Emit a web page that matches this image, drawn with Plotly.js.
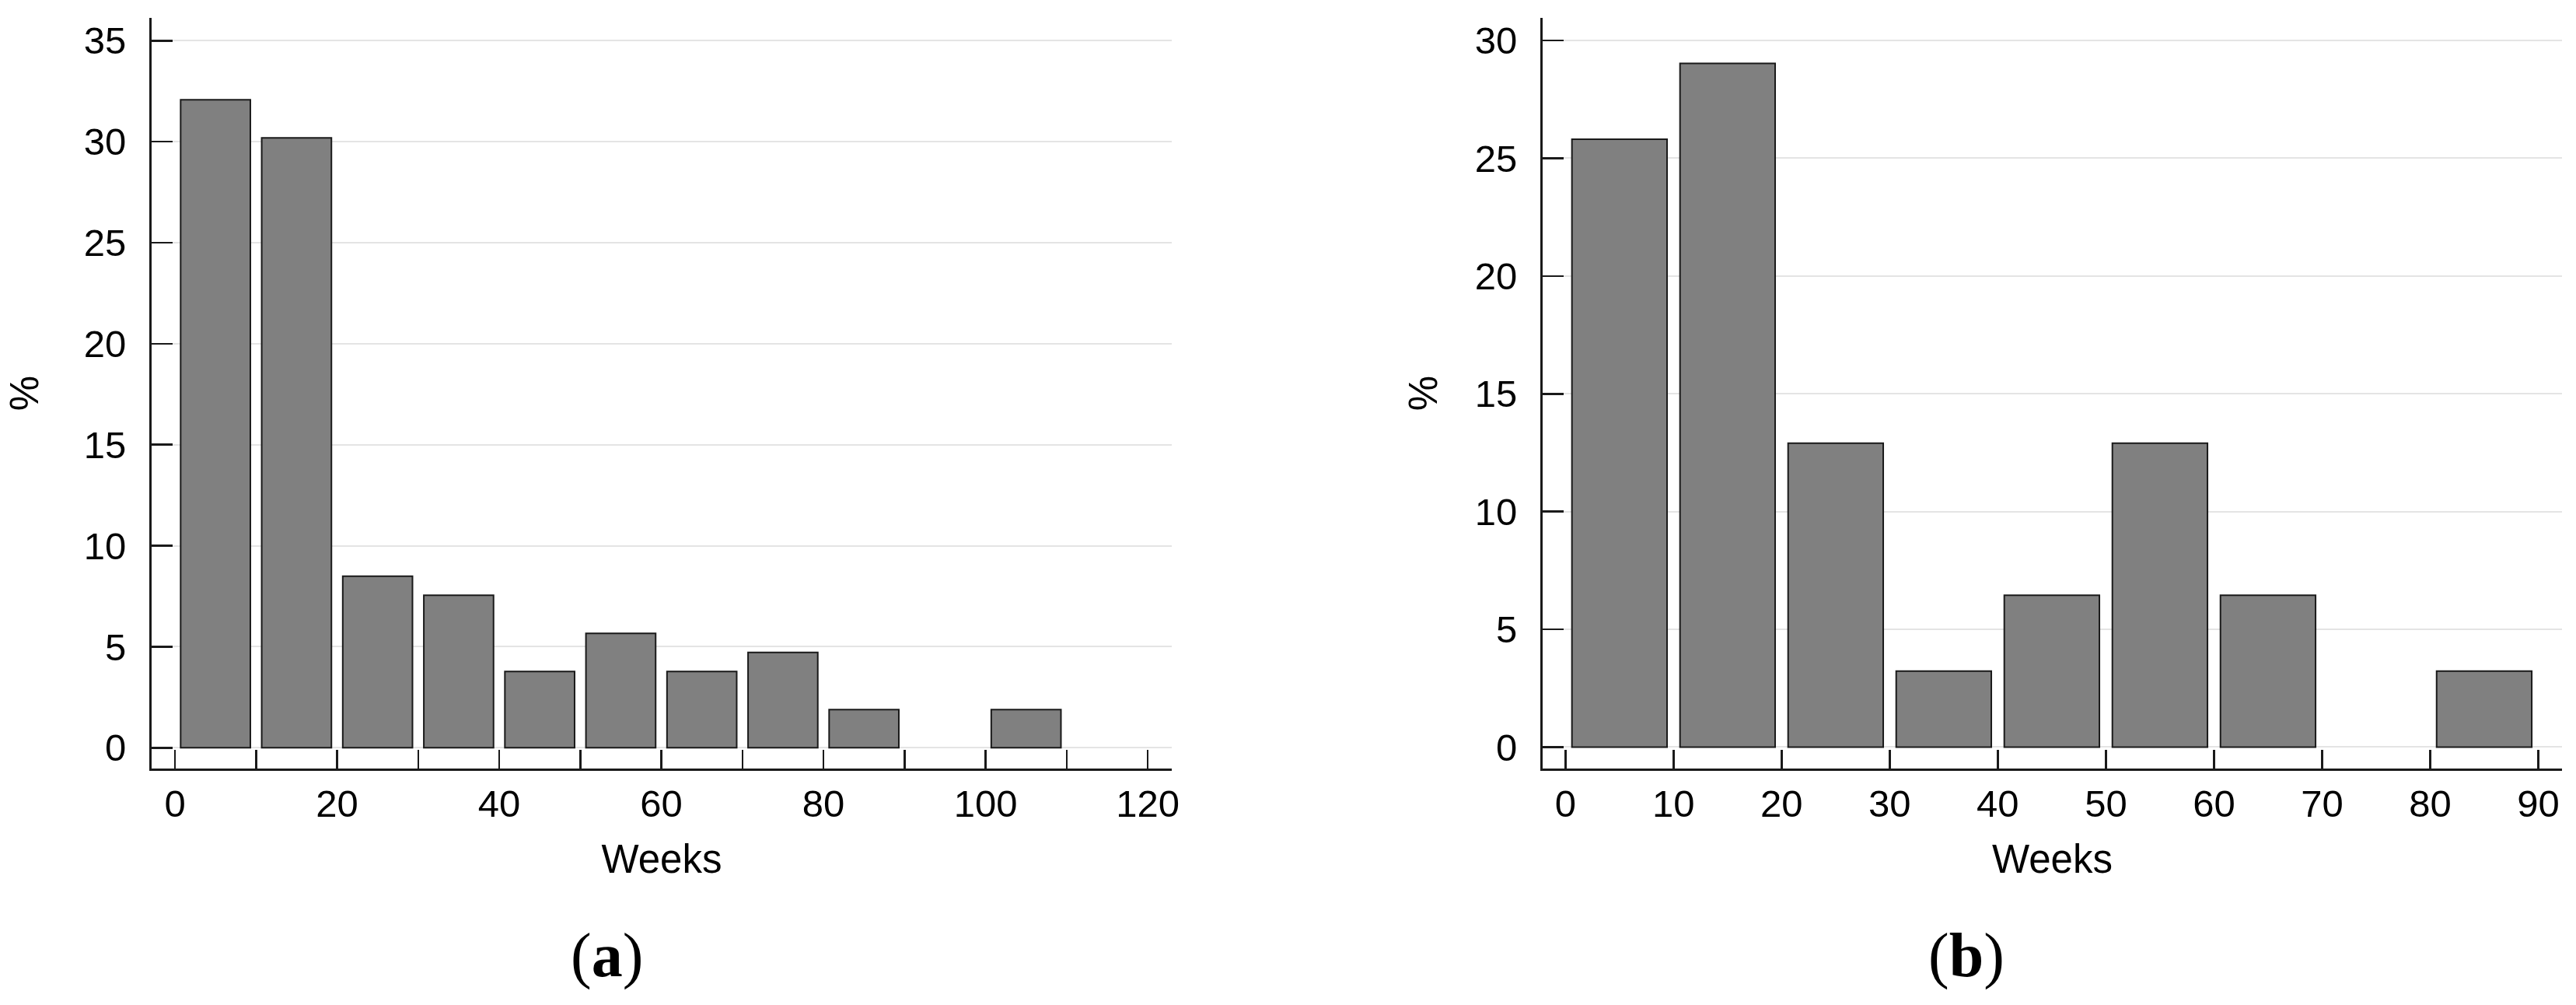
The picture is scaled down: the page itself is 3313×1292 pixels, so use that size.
<!DOCTYPE html>
<html>
<head>
<meta charset="utf-8">
<script src="https://cdn.plot.ly/plotly-3.0.1.min.js"></script>
<style>
  html, body { margin: 0; padding: 0; background: #ffffff; }
  #chart { width: 3313px; height: 1292px; }
</style>
</head>
<body>
<div id="chart"></div>
<script>
// ---- Data ----
// Panel (a): bin centres in weeks (10-week bins) and percentage of patients
const weeksA = [5, 15, 25, 35, 45, 55, 65, 75, 85, 95, 105];
const pctA   = [32.08, 30.19, 8.49, 7.55, 3.77, 5.66, 3.77, 4.72, 1.89, 0, 1.89];

// Panel (b)
const weeksB = [5, 15, 25, 35, 45, 55, 65, 75, 85];
const pctB   = [25.81, 29.03, 12.90, 3.23, 6.45, 12.90, 6.45, 0, 3.23];

// Tick values / labels
const xTickValsA = [0, 10, 20, 30, 40, 50, 60, 70, 80, 90, 100, 110, 120];
const xTickTextA = ['0', '', '20', '', '40', '', '60', '', '80', '', '100', '', '120'];
const yTickValsA = [0, 5, 10, 15, 20, 25, 30, 35];
const xTickValsB = [0, 10, 20, 30, 40, 50, 60, 70, 80, 90];
const xTickTextB = ['0', '10', '20', '30', '40', '50', '60', '70', '80', '90'];
const yTickValsB = [0, 5, 10, 15, 20, 25, 30];

const xTitle = 'Weeks';
const yTitle = '%';
const panelLabels = ['(<b>a</b>)', '(<b>b</b>)'];

// ---- Styling ----
const W = 3313, H = 1292;
const sans = 'Liberation Sans, Arial, sans-serif';
const serif = 'Liberation Serif, Times New Roman, serif';
const barFill = '#808080';
const barEdge = '#1a1a1a';
const axisCol = '#1a1a1a';
const gridCol = '#e4e4e4';

const tickFont = { family: sans, size: 49, color: '#000000' };
const titleFont = { family: sans, size: 51, color: '#000000' };

function px(v, total) { return v / total; }
// empty bins get no outline (no visible mark)
function edgeWidths(vals) { return vals.map(v => (v > 0 ? 2 : 0)); }

const traces = [
  {
    type: 'bar', x: weeksA, y: pctA, width: 8.6,
    marker: { color: barFill, line: { color: barEdge, width: edgeWidths(pctA) } },
    xaxis: 'x', yaxis: 'y', hoverinfo: 'x+y', showlegend: false
  },
  {
    type: 'bar', x: weeksB, y: pctB, width: 8.8,
    marker: { color: barFill, line: { color: barEdge, width: edgeWidths(pctB) } },
    xaxis: 'x2', yaxis: 'y2', hoverinfo: 'x+y', showlegend: false
  }
];

function xAxis(domain, range, vals, text, anchor) {
  return {
    domain: domain, range: range, anchor: anchor,
    tickmode: 'array', tickvals: vals, ticktext: text,
    ticks: 'inside', ticklen: 24, tickwidth: 2.5, tickcolor: axisCol,
    showline: true, linecolor: axisCol, linewidth: 3,
    showgrid: false, zeroline: false,
    tickfont: tickFont, ticklabelstandoff: 0,
    title: { text: xTitle, font: titleFont, standoff: 28 },
    fixedrange: true
  };
}
function yAxis(domain, range, vals, anchor, standoff) {
  return {
    domain: domain, range: range, anchor: anchor,
    tickmode: 'array', tickvals: vals,
    ticks: 'inside', ticklen: 27, tickwidth: 2.5, tickcolor: axisCol,
    showline: true, linecolor: axisCol, linewidth: 3,
    showgrid: true, gridcolor: gridCol, gridwidth: 2, zeroline: false,
    tickfont: tickFont, ticklabelstandoff: 20,
    title: { text: yTitle, font: titleFont, standoff: standoff },
    fixedrange: true
  };
}

const yDom = [1 - px(988, H), 1 - px(23, H)];

const layout = {
  width: W, height: H,
  margin: { l: 0, r: 0, t: 0, b: 0, pad: 0 },
  paper_bgcolor: '#ffffff', plot_bgcolor: '#ffffff',
  font: { family: sans, color: '#000000' },
  showlegend: false,
  xaxis:  xAxis([px(195, W), px(1507, W)], [-2.88, 122.97], xTickValsA, xTickTextA, 'y'),
  yaxis:  yAxis(yDom, [-1.03, 36.13], yTickValsA, 'x', 42),
  xaxis2: xAxis([px(1984, W), px(3295, W)], [-2.11, 92.2], xTickValsB, xTickTextB, 'y2'),
  yaxis2: yAxis(yDom, [-0.91, 30.96], yTickValsB, 'x2', 32),
  annotations: [
    { text: panelLabels[0], xref: 'paper', yref: 'paper', x: px(780, W), y: 1 - px(1228, H),
      xanchor: 'center', yanchor: 'middle', showarrow: false,
      font: { family: serif, size: 80, color: '#000000' } },
    { text: panelLabels[1], xref: 'paper', yref: 'paper', x: px(2529, W), y: 1 - px(1228, H),
      xanchor: 'center', yanchor: 'middle', showarrow: false,
      font: { family: serif, size: 80, color: '#000000' } }
  ]
};

Plotly.newPlot('chart', traces, layout, { displayModeBar: false, staticPlot: true });
</script>
</body>
</html>
